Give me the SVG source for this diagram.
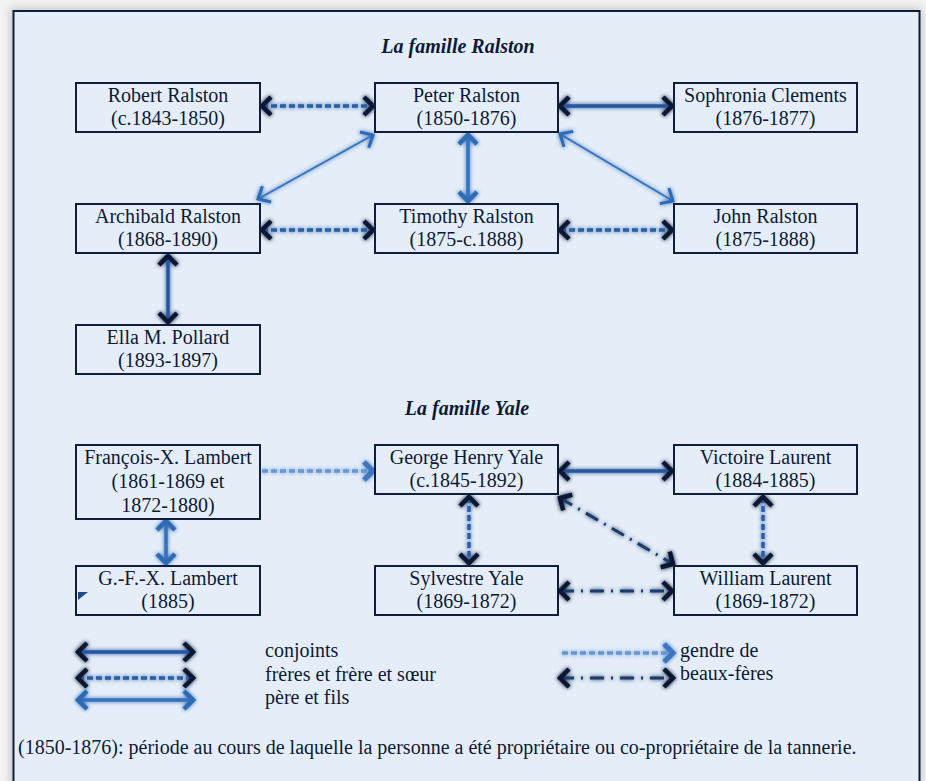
<svg xmlns="http://www.w3.org/2000/svg" width="926" height="781" viewBox="0 0 926 781">
<defs>
<style>
.t{font-family:"Liberation Serif","Times New Roman",serif;font-size:20px;fill:#0c1a36}
.c{text-anchor:middle}
.ti{font-family:"Liberation Serif","Times New Roman",serif;font-size:20px;font-weight:bold;font-style:italic;fill:#0c1a36;text-anchor:middle}
.box{fill:#e5eef8;stroke:#0e1e3c;stroke-width:2}
.conj{stroke:#2557a0;stroke-width:3.5;fill:none;marker-start:url(#mDark);marker-end:url(#mDark)}
.frer{stroke:#2a5ea8;stroke-width:3.5;stroke-dasharray:6 3;fill:none;marker-start:url(#mDark);marker-end:url(#mDark)}
.pere{stroke:#3672bd;stroke-width:3.5;fill:none;marker-start:url(#mLight);marker-end:url(#mLight)}
.pthin{stroke:#3672bd;stroke-width:2;fill:none;marker-start:url(#mLightThin);marker-end:url(#mLightThin)}
.gend{stroke:#6796d2;stroke-width:3.5;stroke-dasharray:6 3;fill:none;marker-end:url(#mGend)}
.beau{stroke:#1c3a6a;stroke-width:3;stroke-dasharray:14 7 2 7;fill:none;marker-start:url(#mDark);marker-end:url(#mDark)}
</style>
<marker id="mDark" viewBox="-14 -14 18 28" refX="0" refY="0" markerWidth="18" markerHeight="28" markerUnits="userSpaceOnUse" orient="auto-start-reverse" overflow="visible">
<path d="M-9,-9 L0,0 L-9,9" fill="none" stroke="#0a1530" stroke-width="4.5"/>
</marker>
<marker id="mLight" viewBox="-14 -14 18 28" refX="0" refY="0" markerWidth="18" markerHeight="28" markerUnits="userSpaceOnUse" orient="auto-start-reverse" overflow="visible">
<path d="M-9,-9 L0,0 L-9,9" fill="none" stroke="#2f6ab5" stroke-width="4.5"/>
</marker>
<marker id="mLightThin" viewBox="-14 -14 18 28" refX="0" refY="0" markerWidth="18" markerHeight="28" markerUnits="userSpaceOnUse" orient="auto-start-reverse" overflow="visible">
<path d="M-10,-9 L0,0 L-10,9" fill="none" stroke="#2f6ab5" stroke-width="3"/>
</marker>
<marker id="mGend" viewBox="-14 -14 18 28" refX="0" refY="0" markerWidth="18" markerHeight="28" markerUnits="userSpaceOnUse" orient="auto" overflow="visible">
<path d="M-9,-9 L0,0 L-9,9" fill="none" stroke="#3c75c0" stroke-width="5"/>
</marker>
<filter id="glow" x="-10%" y="-10%" width="120%" height="120%">
<feGaussianBlur in="SourceGraphic" stdDeviation="2.2" result="b"/>
<feMerge><feMergeNode in="b"/><feMergeNode in="SourceGraphic"/></feMerge>
</filter>
<filter id="sh" x="-5%" y="-5%" width="110%" height="110%">
<feGaussianBlur stdDeviation="4"/>
</filter>
</defs>
<rect x="0" y="0" width="926" height="781" fill="#f3f3f3"/>
<rect x="10" y="8" width="912" height="780" fill="#c8c8c8" filter="url(#sh)"/>
<rect x="13.5" y="11" width="906" height="775" fill="#e5eef8" stroke="#0e1e3c" stroke-width="2"/>

<text class="ti" x="458" y="52.5">La famille Ralston</text>
<text class="ti" x="467" y="415">La famille Yale</text>

<g id="connectors" filter="url(#glow)">
<path class="frer" d="M262,106 L373,106"/>
<path class="conj" d="M560,106 L672,106"/>
<path class="pthin" d="M373,135 L258,199"/>
<path class="pere" d="M468,135 L468,201"/>
<path class="pthin" d="M560,134 L673,201"/>
<path class="frer" d="M262,230 L373,230"/>
<path class="frer" d="M560,230 L672,230"/>
<path class="conj" d="M168,256 L168,322"/>
<path class="gend" d="M262,471 L373,471"/>
<path class="pere" d="M166,521 L166,563"/>
<path class="conj" d="M560,471 L672,471"/>
<path class="frer" d="M469,497 L469,563"/>
<path class="frer" d="M763,497 L763,563"/>
<path class="beau" d="M560,498 L673,564"/>
<path class="beau" d="M560,591 L672,591"/>
<path class="conj" d="M78,652 L193,652"/>
<path class="frer" d="M78,678 L193,678"/>
<path class="pere" d="M78,700 L193,700"/>
<path class="gend" d="M562,653 L673,653"/>
<path class="beau" d="M560,678 L673,678"/>
</g>

<g id="robert"><rect class="box" x="76" y="83" width="184" height="49"/><text class="t c" x="168" y="101.5">Robert Ralston</text><text class="t c" x="168" y="125">(c.1843-1850)</text></g>
<g id="peter"><rect class="box" x="375" y="83" width="183" height="49"/><text class="t c" x="466.5" y="101.5">Peter Ralston</text><text class="t c" x="466.5" y="125">(1850-1876)</text></g>
<g id="sophronia"><rect class="box" x="674" y="83" width="183" height="49"/><text class="t c" x="765.5" y="101.5">Sophronia Clements</text><text class="t c" x="765.5" y="125">(1876-1877)</text></g>
<g id="archibald"><rect class="box" x="76" y="204" width="184" height="49"/><text class="t c" x="168" y="222.5">Archibald Ralston</text><text class="t c" x="168" y="246">(1868-1890)</text></g>
<g id="timothy"><rect class="box" x="375" y="204" width="183" height="49"/><text class="t c" x="466.5" y="222.5">Timothy Ralston</text><text class="t c" x="466.5" y="246">(1875-c.1888)</text></g>
<g id="john"><rect class="box" x="674" y="204" width="183" height="49"/><text class="t c" x="765.5" y="222.5">John Ralston</text><text class="t c" x="765.5" y="246">(1875-1888)</text></g>
<g id="ella"><rect class="box" x="76" y="325" width="184" height="49"/><text class="t c" x="168" y="343.5">Ella M. Pollard</text><text class="t c" x="168" y="367">(1893-1897)</text></g>

<g id="francois"><rect class="box" x="76" y="445" width="184" height="74"/><text class="t c" x="168" y="463.5">François-X. Lambert</text><text class="t c" x="168" y="487.5">(1861-1869 et</text><text class="t c" x="168" y="511.5">1872-1880)</text></g>
<g id="george"><rect class="box" x="375" y="445" width="183" height="49"/><text class="t c" x="466.5" y="463.5">George Henry Yale</text><text class="t c" x="466.5" y="487">(c.1845-1892)</text></g>
<g id="victoire"><rect class="box" x="674" y="445" width="183" height="49"/><text class="t c" x="765.5" y="463.5">Victoire Laurent</text><text class="t c" x="765.5" y="487">(1884-1885)</text></g>
<g id="gfx"><rect class="box" x="76" y="566" width="184" height="49"/><path d="M78,592 L88,592 L78,600 Z" fill="#1c4a90"/><text class="t c" x="168" y="584.5">G.-F.-X. Lambert</text><text class="t c" x="168" y="608">(1885)</text></g>
<g id="sylvestre"><rect class="box" x="375" y="566" width="183" height="49"/><text class="t c" x="466.5" y="584.5">Sylvestre Yale</text><text class="t c" x="466.5" y="608">(1869-1872)</text></g>
<g id="william"><rect class="box" x="674" y="566" width="183" height="49"/><text class="t c" x="765.5" y="584.5">William Laurent</text><text class="t c" x="765.5" y="608">(1869-1872)</text></g>

<g id="legend">
<text class="t" x="265" y="657">conjoints</text>
<text class="t" x="265" y="681">frères et frère et sœur</text>
<text class="t" x="265" y="704">père et fils</text>
<text class="t" x="680" y="657">gendre de</text>
<text class="t" x="680" y="680">beaux-fères</text>
</g>
<text class="t" x="18" y="754">(1850-1876): période au cours de laquelle la personne a été propriétaire ou co-propriétaire de la tannerie.</text>
</svg>
